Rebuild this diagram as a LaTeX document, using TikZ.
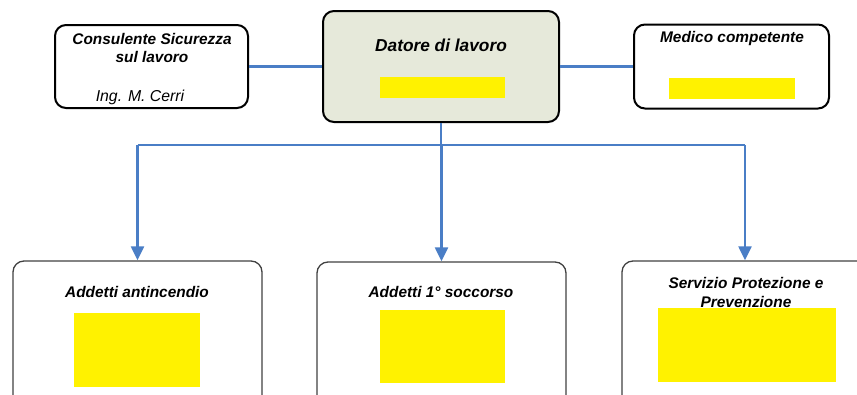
\documentclass[tikz,border=0pt]{standalone}
\usepackage{fontspec}
\setmainfont{Liberation Sans}
\usepackage{xcolor}
\usetikzlibrary{arrows.meta,positioning,calc}

\definecolor{linkblue}{HTML}{4A7EC6}
\definecolor{bossfill}{HTML}{E6E9DA}

\begin{document}
\begin{tikzpicture}[x=1pt, y=-1pt,
    topbox/.style={draw, line width=2pt, rounded corners=11pt, inner sep=0pt},
    lowbox/.style={draw=black!75, line width=1.3pt, rounded corners=11pt,
        inner sep=0pt, minimum height=160pt},
    hole/.style={fill=yellow, inner sep=0pt},
    title/.style={font=\fontsize{15.4}{18.5}\selectfont\bfseries\itshape,
        align=center, inner sep=0pt},
    link/.style={draw=linkblue, line width=2.2pt},
    ]
    % --- Frame ---
    \useasboundingbox (0,0) rectangle (857,394);
    \clip (0,0) rectangle (857,394);

    % --- Top row ---
    \node[topbox, minimum width=193pt, minimum height=83pt] (cons) at (151.5,66.5) {};
    \node[topbox, fill=bossfill, minimum width=236pt, minimum height=111pt] (boss) at (441,66.5) {};
    \node[topbox, minimum width=195pt, minimum height=84pt] (medico) at (731.5,66.5) {};

    \node[title] (consT) at (152,48) {Consulente Sicurezza\\sul lavoro};
    \node[font=\fontsize{15.8}{18}\selectfont\itshape, inner sep=0pt] (consN) at (140,97) {Ing. M. Cerri};
    \node[title, font=\fontsize{17.3}{20}\selectfont\bfseries\itshape] (bossT) at (441,45) {Datore di lavoro};
    \node[title] (medicoT) at (732,39) {Medico competente};

    % hidden names
    \node[hole, minimum width=125pt, minimum height=21pt] (bossH) at (442.5,87.5) {};
    \node[hole, minimum width=126pt, minimum height=21pt] (medicoH) at (732,88.5) {};

    % --- Bottom row ---
    \node[lowbox, minimum width=249pt] (anti) at (137.5,341) {};
    \node[lowbox, minimum width=249pt] (socc) at (441.5,342) {};
    \node[lowbox, minimum width=246pt] (serv) at (745,341) {};

    \node[title] (antiT) at (137,292) {Addetti antincendio};
    \node[title] (soccT) at (441,292) {Addetti 1° soccorso};
    \node[title] (servT) at (746,292.5) {Servizio Protezione e\\Prevenzione};

    \node[hole, minimum width=126pt, minimum height=74pt] (antiH) at (137,350) {};
    \node[hole, minimum width=125pt, minimum height=73pt] (soccH) at (442.5,346.5) {};
    \node[hole, minimum width=178pt, minimum height=74pt] (servH) at (747,345) {};

    % --- Links ---
    \draw[link] (cons.east) -- (boss.west);
    \draw[link] (boss.east) -- (medico.west);

    \coordinate (fork) at (441,145);
    \draw[link] (boss.south) -- (fork);
    \draw[link] (anti.north |- fork) -- (serv.north |- fork);
    \foreach \b in {anti,socc,serv}
        \draw[link, -{Triangle[width=13pt,length=14pt]}] (\b.north |- fork) -- (\b.north);

\end{tikzpicture}
\end{document}
